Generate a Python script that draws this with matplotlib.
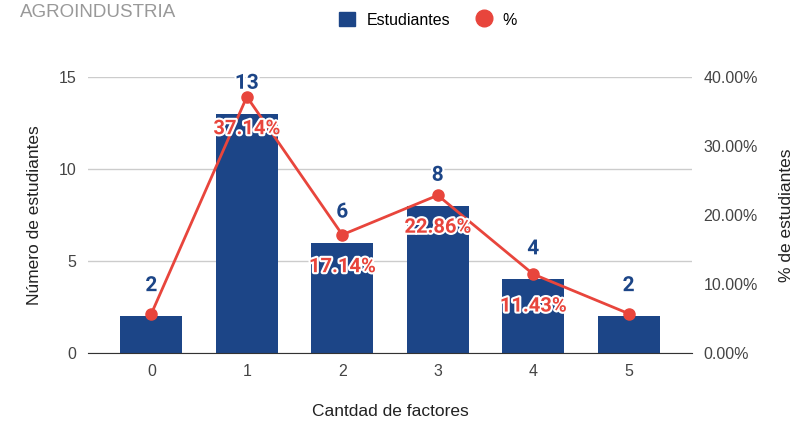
import matplotlib.pyplot as plt
from matplotlib.lines import Line2D
from matplotlib.patches import Patch
import matplotlib.patheffects as pe
import numpy as np

factores = ['0', '1', '2', '3', '4', '5']
estudiantes = [2, 13, 6, 8, 4, 2]
porcentaje = [5.71, 37.14, 17.14, 22.86, 11.43, 5.71]
etiquetas_pct = ['', '37.14%', '17.14%', '22.86%', '11.43%', '']

azul = '#1c4587'
rojo = '#e8453c'
gris = '#444444'

plt.rcParams['font.family'] = ['Liberation Sans', 'DejaVu Sans']

fig = plt.figure(figsize=(8.05, 4.22), dpi=100)
ax = fig.add_axes([0.109, 0.1635, 0.751, 0.654])
x = np.arange(len(factores))

ax.bar(x, estudiantes, width=0.65, color=azul, zorder=2)
ax.set_xlim(-0.667, 5.667)
ax.set_ylim(0, 15)
ax.set_yticks([0, 5, 10, 15])
ax.set_xticks(x)
ax.set_xticklabels(factores)
ax.grid(axis='y', color='#cccccc', linewidth=1, zorder=0)
for s in ['top', 'right', 'left']:
    ax.spines[s].set_visible(False)
ax.spines['bottom'].set_color('#333333')
ax.tick_params(axis='both', length=0, labelsize=11.5, labelcolor=gris, pad=8)
ax.set_xlabel('Cantdad de factores', fontsize=12.5, color='#222222', labelpad=18)
ax.set_ylabel('Número de estudiantes', fontsize=12.5, color='#222222', labelpad=12)

for xi, v in zip(x, estudiantes):
    ax.annotate(str(v), (xi, v), xytext=(0, 22), textcoords='offset points',
                ha='center', va='center', fontsize=15, fontweight='bold', color=azul,
                family='Roboto',
                path_effects=[pe.withStroke(linewidth=3, foreground='white')], zorder=5)

ax2 = ax.twinx()
ax2.plot(x, porcentaje, color=rojo, linewidth=2, marker='o', markersize=8, zorder=3)
ax2.set_ylim(0, 40)
ax2.set_yticks([0, 10, 20, 30, 40])
ax2.set_yticklabels(['%.2f%%' % t for t in [0, 10, 20, 30, 40]])
for s in ['top', 'right', 'left', 'bottom']:
    ax2.spines[s].set_visible(False)
ax2.tick_params(axis='y', length=0, labelsize=11.5, labelcolor=gris, pad=8)
ax2.set_ylabel('% de estudiantes', fontsize=12.5, color='#222222', labelpad=15)

for xi, p, t in zip(x, porcentaje, etiquetas_pct):
    if t:
        ax2.annotate(t, (xi, p), xytext=(0, -23), textcoords='offset points',
                     ha='center', va='center', fontsize=14.5, fontweight='bold', color=rojo,
                     family='Roboto',
                     path_effects=[pe.withStroke(linewidth=3, foreground='white')], zorder=6)

handles = [Patch(color=azul, label='Estudiantes'),
           Line2D([], [], color=rojo, marker='o', linestyle='', markersize=12, label='%')]
fig.legend(handles=handles, loc='center', bbox_to_anchor=(0.532, 0.953), ncol=2,
           frameon=False, prop={'size': 11.5},
           handlelength=1.0, handleheight=1.0,
           columnspacing=1.6, handletextpad=0.7)

fig.text(0.025, 0.97, 'AGROINDUSTRIA', fontsize=13.5, color='#999999', va='center', ha='left')

plt.savefig('out.png', dpi=100)
